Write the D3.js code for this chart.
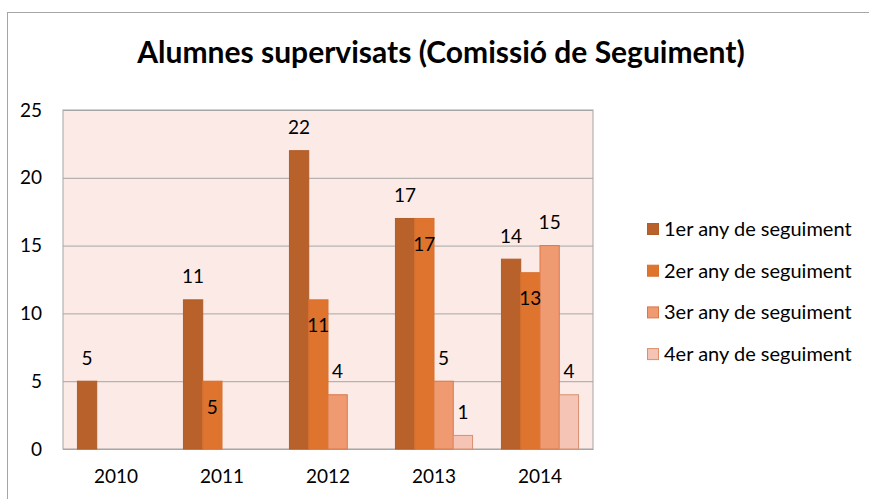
<!DOCTYPE html>
<html>
<head>
<meta charset="utf-8">
<script src="https://cdn.jsdelivr.net/npm/d3@7"></script>
<style>
  html, body { margin: 0; padding: 0; background: #fff; }
  svg { display: block; font-family: Lato, "Open Sans", sans-serif; }
</style>
</head>
<body>
<div id="chart"></div>
<script>
(function () {

  "use strict";

  // data
  var years = ["2010", "2011", "2012", "2013", "2014"];
  var seriesNames = ["1er any de seguiment", "2er any de seguiment", "3er any de seguiment", "4er any de seguiment"];
  var firstYear = [5, 11, 22, 17, 14];
  var secondYear = [null, 5, 11, 17, 13];
  var thirdYear = [null, null, 4, 5, 15];
  var fourthYear = [null, null, null, 1, 4];
  var yTicks = [0, 5, 10, 15, 20, 25];

  var values = [firstYear, secondYear, thirdYear, fourthYear];
  var fills = ["#b8612a", "#df742f", "#f09a72", "#f6c4b4"];
  var strokes = ["#b05d29", "#d8702f", "#d9784a", "#d8906f"];

  var width = 869, height = 499;
  var plot = {left: 63, right: 593, top: 110, bottom: 449};
  var fontSize = 19;

  var svg = d3.select("#chart").append("svg")
    .attr("width", width)
    .attr("height", height);

  // chart frame
  svg.append("rect")
    .attr("x", 7.5).attr("y", 12.5)
    .attr("width", width + 10).attr("height", height + 10)
    .attr("fill", "#fff").attr("stroke", "#a6a6a6");

  svg.append("text")
    .attr("x", 441).attr("y", 63)
    .attr("text-anchor", "middle")
    .attr("font-weight", "bold")
    .attr("font-size", 30)
    .attr("fill", "#000")
    .text("Alumnes supervisats (Comissió de Seguiment)");

  var x0 = d3.scaleBand().domain(years).range([plot.left, plot.right]).padding(0);
  var x1 = d3.scaleBand().domain(d3.range(seriesNames.length))
    .range([0, x0.bandwidth()]).paddingInner(0).paddingOuter(0.75);
  var y = d3.scaleLinear().domain([0, 25]).range([plot.bottom, plot.top]);

  svg.append("rect")
    .attr("x", plot.left).attr("y", plot.top)
    .attr("width", plot.right - plot.left).attr("height", plot.bottom - plot.top)
    .attr("fill", "#fbeae6").attr("stroke", "#a6a6a6");

  // gridlines + y labels
  var yAxis = d3.axisLeft(y).tickValues(yTicks)
    .tickSize(-(plot.right - plot.left)).tickPadding(21);
  var gy = svg.append("g").attr("transform", "translate(" + plot.left + ",0)").call(yAxis);
  gy.select(".domain").remove();
  gy.selectAll("line").attr("stroke", "#a6a6a6");
  gy.selectAll("text").attr("font-size", fontSize).attr("fill", "#000")
    .attr("font-family", "Lato, sans-serif");

  var xAxis = d3.axisBottom(x0).tickSize(0).tickPadding(21);
  var gx = svg.append("g").attr("transform", "translate(0," + plot.bottom + ")").call(xAxis);
  gx.select(".domain").attr("stroke", "#a6a6a6");
  gx.selectAll("text").attr("font-size", fontSize).attr("fill", "#000")
    .attr("font-family", "Lato, sans-serif");

  var bars = [];
  values.forEach(function (arr, s) {
    arr.forEach(function (v, i) {
      if (v !== null) bars.push({s: s, year: years[i], value: v});
    });
  });

  svg.append("g").selectAll("rect").data(bars).join("rect")
    .attr("x", function (d) { return x0(d.year) + x1(d.s); })
    .attr("y", function (d) { return y(d.value); })
    .attr("width", x1.bandwidth())
    .attr("height", function (d) { return y(0) - y(d.value); })
    .attr("fill", function (d) { return fills[d.s]; })
    .attr("stroke", function (d) { return strokes[d.s]; })
    .attr("stroke-width", 1);

  // second series labels sit just inside the bar top
  svg.append("g").selectAll("text").data(bars).join("text")
    .attr("x", function (d) { return x0(d.year) + x1(d.s) + x1.bandwidth() / 2; })
    .attr("y", function (d) { return y(d.value) + (d.s === 1 ? 26 : -23); })
    .attr("dy", "0.35em")
    .attr("text-anchor", "middle")
    .attr("font-size", fontSize)
    .attr("fill", "#000")
    .text(function (d) { return d.value; });

  var legend = svg.append("g").selectAll("g").data(seriesNames).join("g")
    .attr("transform", function (d, i) { return "translate(647," + (229 + i * 41.7) + ")"; });
  legend.append("rect")
    .attr("x", 0.5).attr("y", -5.5).attr("width", 11).attr("height", 11)
    .attr("fill", function (d, i) { return fills[i]; })
    .attr("stroke", function (d, i) { return strokes[i]; });
  legend.append("text")
    .attr("x", 17).attr("dy", "0.35em")
    .attr("font-size", 20)
    .attr("fill", "#000")
    .text(function (d) { return d; });

}());
</script>
</body>
</html>
